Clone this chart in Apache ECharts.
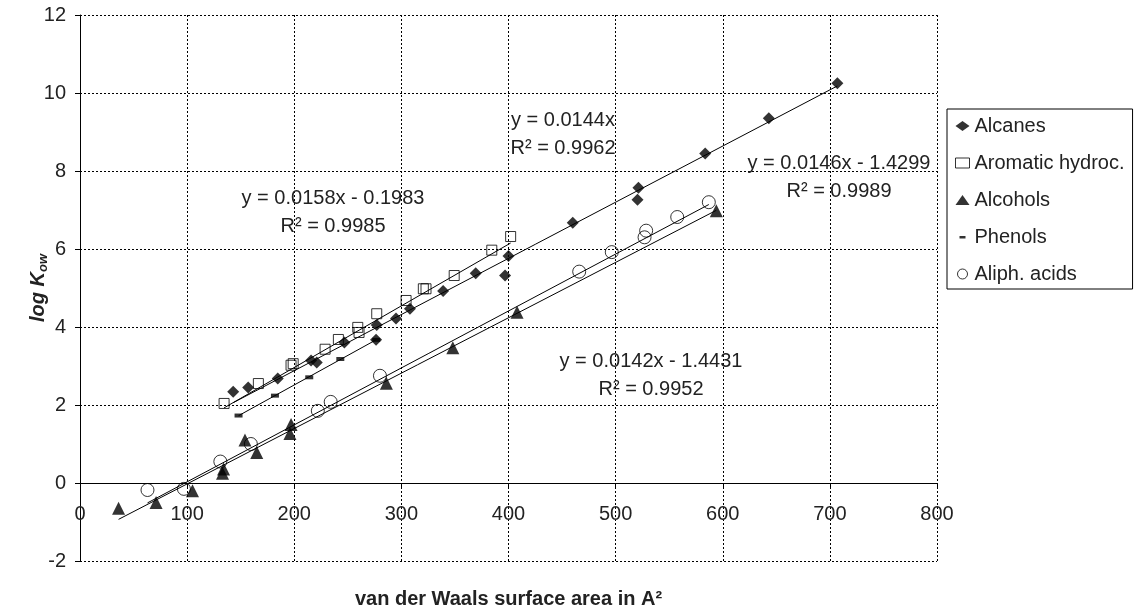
<!DOCTYPE html>
<html>
<head>
<meta charset="utf-8">
<script src="https://cdn.jsdelivr.net/npm/echarts@6/dist/echarts.min.js"></script>
<style>
html, body { margin: 0; padding: 0; background: #fff; }
#chart { width: 1134px; height: 608px; }
</style>
</head>
<body>
<div id="chart"></div>
<script>
// values: [surface area, log Kow]
var alcanes = [[143, 2.34], [157, 2.45], [184.6, 2.68], [215.7, 3.14], [221, 3.09], [246.8, 3.6],
    [276.4, 3.67], [277, 4.05], [295, 4.22], [308, 4.47], [339, 4.92], [369.4, 5.38], [396.8, 5.32],
    [400, 5.82], [460, 6.67], [520.4, 7.26], [521.3, 7.57], [583.6, 8.45], [643, 9.35], [707, 10.25]];
var aromatics = [[134.5, 2.04], [166.5, 2.55], [197, 3.02], [199, 3.06], [228.8, 3.43], [241.2, 3.68],
    [259.3, 3.99], [260.5, 3.86], [277, 4.34], [304.4, 4.68], [320.5, 4.98], [323, 4.98], [349.3, 5.32],
    [384.4, 5.97], [402, 6.32]];
var alcohols = [[36, -0.65], [71, -0.5], [105, -0.2], [133, 0.25], [134, 0.36], [154, 1.1], [165, 0.78],
    [196, 1.27], [197, 1.5], [286, 2.56], [348, 3.47], [408, 4.38], [594, 6.98]];
var phenols = [[148, 1.73], [182, 2.24], [214, 2.71], [243, 3.18], [276.5, 3.67]];
var acids = [[63, -0.18], [97, -0.15], [131, 0.55], [159.5, 1.0], [222, 1.85], [234, 2.08], [280, 2.75],
    [466, 5.42], [496.4, 5.92], [527, 6.3], [528.5, 6.47], [557.5, 6.82], [587, 7.2]];

// trendline coefficients shown on the chart (slope, intercept)
var fitAlcanes = [0.0144, 0];
var fitAromatics = [0.0158, -0.1983];
var fitAlcohols = [0.0142, -1.4431];
var fitAcids = [0.0146, -1.4299];

var eqTexts = [
    ['y = 0.0144x', 'R\u00b2 = 0.9962'],
    ['y = 0.0158x - 0.1983', 'R\u00b2 = 0.9985'],
    ['y = 0.0146x - 1.4299', 'R\u00b2 = 0.9989'],
    ['y = 0.0142x - 1.4431', 'R\u00b2 = 0.9952']
];
// label centres in pixels
var eqPos = [[563, 120], [333, 198], [839, 163], [651, 361]];

var FONT = '"Liberation Sans", Arial, sans-serif';
var Y_MIN = -2, Y_MAX = 12;
var GRID = { left: 80, right: 197, top: 15, bottom: 47 };

function leastSquares(pts) {
    var n = pts.length, sx = 0, sy = 0, sxx = 0, sxy = 0;
    pts.forEach(function (p) { sx += p[0]; sy += p[1]; sxx += p[0] * p[0]; sxy += p[0] * p[1]; });
    var a = (n * sxy - sx * sy) / (n * sxx - sx * sx);
    return [a, (sy - a * sx) / n];
}

function trend(pts, fit) {
    var xs = pts.map(function (p) { return p[0]; });
    var x0 = Math.min.apply(null, xs), x1 = Math.max.apply(null, xs);
    return [[x0, fit[0] * x0 + fit[1]], [x1, fit[0] * x1 + fit[1]]];
}

function lineSeries(name, data) {
    return {
        name: name, type: 'line', data: data, showSymbol: false, z: 2, silent: true,
        lineStyle: { color: '#000', width: 1 }
    };
}

var hollow = { color: 'rgba(255,255,255,0)', borderColor: '#000', borderWidth: 1 };
var solid = { color: '#000', borderWidth: 0 };

var chartEl = document.getElementById('chart');
var chart = echarts.init(chartEl);

// x axis sits on y = 0: shift it up from the grid bottom
var plotH = chartEl.clientHeight - GRID.top - GRID.bottom;
var zeroOffset = -plotH * (0 - Y_MIN) / (Y_MAX - Y_MIN);

var graphics = [];
eqTexts.forEach(function (t, i) {
    graphics.push({
        type: 'text', x: eqPos[i][0], y: eqPos[i][1], z: 10,
        style: { text: t[0], fontSize: 20, fontFamily: FONT, fill: '#222', align: 'center', verticalAlign: 'middle' }
    });
    graphics.push({
        type: 'text', x: eqPos[i][0], y: eqPos[i][1] + 28, z: 10,
        style: { text: t[1], fontSize: 20, fontFamily: FONT, fill: '#222', align: 'center', verticalAlign: 'middle' }
    });
});

var option = {
    animation: false,
    textStyle: { fontFamily: FONT },
    grid: { left: GRID.left, right: GRID.right, top: GRID.top, bottom: GRID.bottom, containLabel: false, outerBoundsMode: 'none' },
    legend: {
        orient: 'vertical', left: 947, top: 109,
        padding: [7, 8, 5, 8], itemGap: 17, itemWidth: 14, itemHeight: 10,
        borderColor: '#000', borderWidth: 1,
        textStyle: { fontSize: 20, color: '#222', lineHeight: 20, fontFamily: FONT },
        data: [
            { name: 'Alcanes', icon: 'diamond', itemStyle: solid },
            { name: 'Aromatic hydroc.', icon: 'rect', itemStyle: hollow },
            { name: 'Alcohols', icon: 'triangle', itemStyle: solid },
            { name: 'Phenols', icon: 'path://M0,0M2,4L8,4L8,6.5L2,6.5ZM10,10', itemStyle: solid },
            { name: 'Aliph. acids', icon: 'circle', itemStyle: hollow }
        ]
    },
    xAxis: {
        type: 'value', min: 0, max: 800, interval: 100, position: 'bottom', offset: zeroOffset,
        axisLine: { onZero: false, lineStyle: { color: '#000', width: 1 } },
        axisTick: { show: true, length: 5, lineStyle: { color: '#000' } },
        axisLabel: { margin: 21, fontSize: 20, color: '#222' },
        splitLine: { show: true, lineStyle: { color: '#000', width: 1, type: [2, 2] } },
        name: 'van der Waals surface area in A\u00b2', nameLocation: 'middle', nameGap: 106, nameMoveOverlap: false,
        nameTextStyle: { fontSize: 20, fontWeight: 'bold', color: '#222' }
    },
    yAxis: {
        type: 'value', min: Y_MIN, max: Y_MAX, interval: 2,
        axisLine: { show: true, onZero: false, lineStyle: { color: '#000', width: 1 } },
        axisTick: { show: true, length: 5, lineStyle: { color: '#000' } },
        axisLabel: { margin: 14, fontSize: 20, color: '#222' },
        splitLine: { show: true, lineStyle: { color: '#000', width: 1, type: [2, 2] } },
        name: '{a|log K}{b|ow}', nameLocation: 'middle', nameGap: 30, nameRotate: 90, nameMoveOverlap: false,
        nameTextStyle: {
            color: '#222',
            rich: {
                a: { fontSize: 20, fontWeight: 'bold', fontStyle: 'italic', color: '#222', fontFamily: FONT },
                b: { fontSize: 13, fontWeight: 'bold', fontStyle: 'italic', color: '#222', fontFamily: FONT, padding: [10, 0, 0, 0] }
            }
        }
    },
    series: [
        lineSeries('fit alcanes', trend(alcanes, fitAlcanes)),
        lineSeries('fit aromatics', trend(aromatics, fitAromatics)),
        lineSeries('fit alcohols', trend(alcohols, fitAlcohols)),
        lineSeries('fit phenols', trend(phenols, leastSquares(phenols))),
        lineSeries('fit acids', trend(acids, fitAcids)),
        { name: 'Phenols', type: 'scatter', data: phenols, symbol: 'rect', symbolSize: [8, 4], z: 3, itemStyle: solid },
        { name: 'Alcanes', type: 'scatter', data: alcanes, symbol: 'diamond', symbolSize: 12, z: 3, itemStyle: solid },
        { name: 'Aromatic hydroc.', type: 'scatter', data: aromatics, symbol: 'rect', symbolSize: 10, z: 3, itemStyle: hollow },
        { name: 'Alcohols', type: 'scatter', data: alcohols, symbol: 'triangle', symbolSize: 13, z: 3, itemStyle: solid },
        { name: 'Aliph. acids', type: 'scatter', data: acids, symbol: 'circle', symbolSize: 13, z: 3, itemStyle: hollow }
    ],
    graphic: graphics
};

chart.setOption(option);
</script>
</body>
</html>
